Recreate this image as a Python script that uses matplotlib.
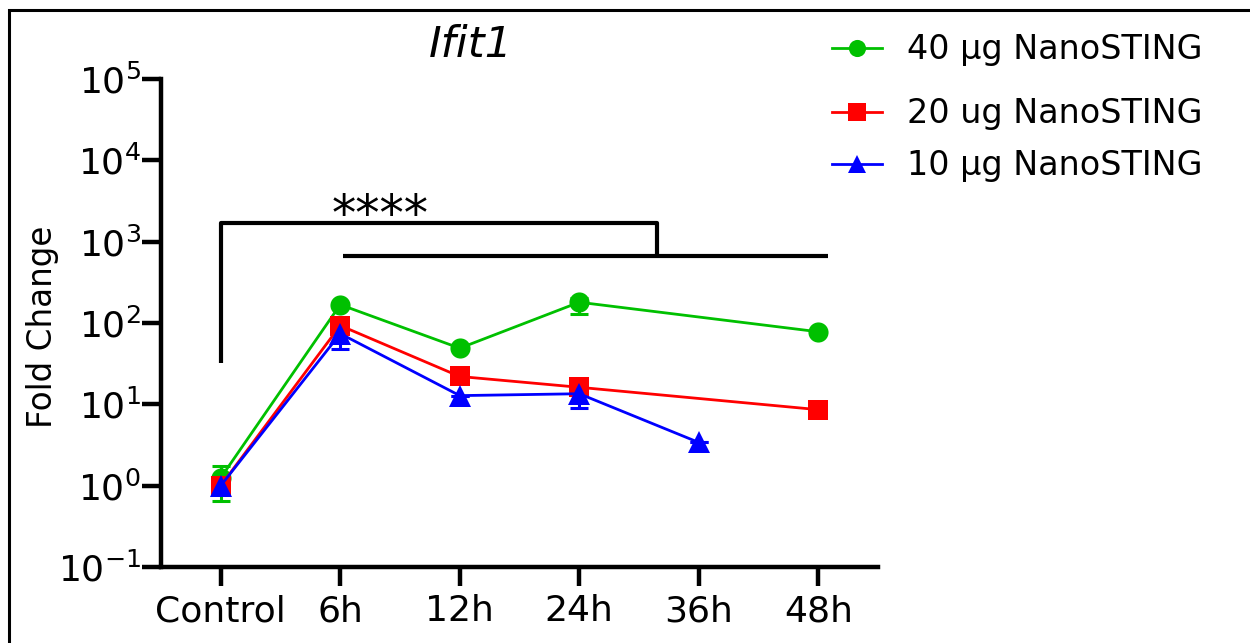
import numpy as np
import matplotlib
matplotlib.use("Agg")
import matplotlib.pyplot as plt
from matplotlib.patches import Rectangle
from matplotlib.ticker import FixedLocator, NullLocator

plt.rcParams['font.family'] = ['DejaVu Sans']
plt.rcParams['mathtext.default'] = 'regular'
plt.rcParams['axes.unicode_minus'] = False

categories = ["Control", "6h", "12h", "24h", "36h", "48h"]
y_exponents = [-1, 0, 1, 2, 3, 4, 5]

# 40 µg NanoSTING
g40_x = [0, 1, 2, 3, 5]
g40_y = [1.25, 168, 49, 180, 78]
g40_lo = [0.60, 0, 0, 50, 0]
g40_hi = [0.51, 0, 0, 25, 0]

# 20 ug NanoSTING
g20_x = [0, 1, 2, 3, 5]
g20_y = [1.0, 93, 22, 16.2, 8.6]
g20_lo = [0.2, 15, 0, 2, 0]
g20_hi = [0.2, 15, 0, 2, 0]

# 10 µg NanoSTING
g10_x = [0, 1, 2, 3, 4]
g10_y = [1.0, 74, 12.8, 13.5, 3.4]
g10_lo = [0.1, 26, 0, 4.5, 0]
g10_hi = [0.1, 36, 0, 5.0, 0]

series = [
    ("40 µg NanoSTING", g40_x, g40_y, g40_lo, g40_hi, "#00C000", "o", 14.5),
    ("20 ug NanoSTING", g20_x, g20_y, g20_lo, g20_hi, "#FF0000", "s", 14.5),
    ("10 µg NanoSTING", g10_x, g10_y, g10_lo, g10_hi, "#0000FF", "^", 15.5),
]
legend_rows_px = [50, 114, 166]

# significance bracket (data coordinates)
br_left_x = 0
br_left_y0 = 32
br_top_y = 1720
br_drop_x = 3.65
sub_y = 675
sub_x0 = 1.02
sub_x1 = 5.08
stars_x = 1.33
stars_y = 1060
stars_label = "****"

W, H = 1250, 643
fig = plt.figure(figsize=(W / 100, H / 100), dpi=100)
ax = fig.add_axes([161 / W, 1 - 567 / H, (878 - 161) / W, (567 - 79) / H])

handles = []
for label, xs, ys, lo, hi, col, mk, ms in series:
    ax.errorbar(xs, ys, yerr=[lo, hi], fmt='none', ecolor=col, elinewidth=2.2,
                capsize=6.5, capthick=2.2, zorder=2)
    h, = ax.plot(xs, ys, color=col, marker=mk, markersize=ms, linewidth=2.0,
                 markeredgewidth=0, label=label, zorder=3)
    handles.append(h)

ax.set_yscale('log')
ax.set_ylim(0.1, 1e5)
ax.set_xlim(-0.5, 5.5)
ax.yaxis.set_major_locator(FixedLocator([10.0 ** e for e in y_exponents]))
ax.yaxis.set_minor_locator(NullLocator())
ax.set_yticklabels([r"$10^{%d}$" % e for e in y_exponents])
ax.set_xticks(range(len(categories)))
ax.set_xticklabels(categories)

for s in ['top', 'right']:
    ax.spines[s].set_visible(False)
for s in ['left', 'bottom']:
    ax.spines[s].set_linewidth(3.2)
ax.tick_params(axis='both', which='major', length=13.5, width=3.2, labelsize=26)
ax.tick_params(axis='y', pad=1)
ax.tick_params(axis='x', pad=6)

# bracket
lw_b = 3.0
ax.plot([br_left_x, br_left_x, br_drop_x, br_drop_x], [br_left_y0, br_top_y, br_top_y, sub_y],
        color='black', lw=lw_b, solid_capstyle='butt', clip_on=False, zorder=1)
ax.plot([sub_x0, sub_x1], [sub_y, sub_y], color='black', lw=lw_b,
        solid_capstyle='butt', clip_on=False, zorder=1)
ax.text(stars_x, stars_y, stars_label, ha='center', va='bottom', fontsize=35)

fig.text(471 / W, 1 - 45 / H, "Ifit1", ha='center', va='center', fontsize=31, style='italic')
fig.text(43 / W, 1 - 327 / H, "Fold Change", ha='center', va='center', rotation=90, fontsize=23.5)

for h, ypx in zip(handles, legend_rows_px):
    fig.legend(handles=[h], loc='center left', bbox_to_anchor=(832 / W, 1 - ypx / H),
               frameon=False, fontsize=24, handlelength=1.5, handletextpad=0.75,
               markerscale=0.85, borderaxespad=0, borderpad=0)

fig.patches.append(Rectangle((9 / W, -0.1), 1.2, 1 - 10 / H + 0.1, transform=fig.transFigure,
                             fill=False, edgecolor='black', linewidth=2.2, figure=fig))

fig.savefig("out.png", dpi=100)
